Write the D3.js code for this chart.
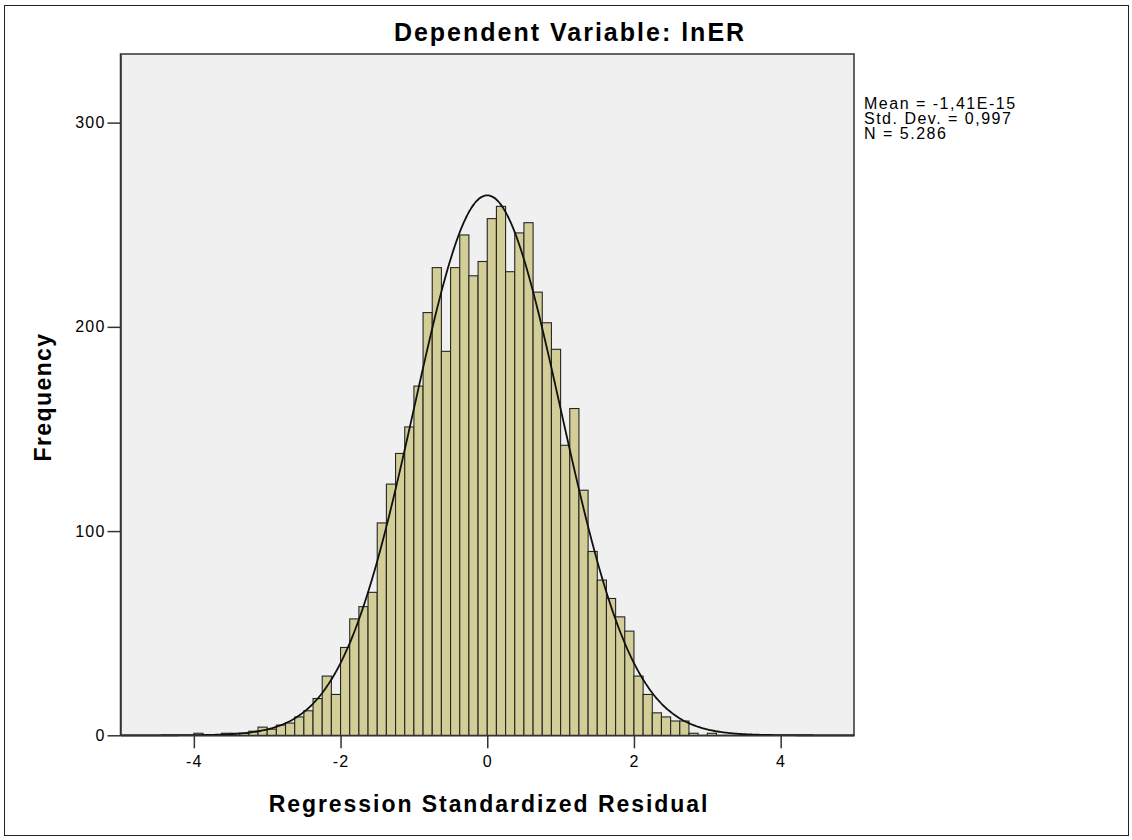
<!DOCTYPE html>
<html>
<head>
<meta charset="utf-8">
<script src="https://cdnjs.cloudflare.com/ajax/libs/d3/7.8.5/d3.min.js"></script>
<style>
	body { margin: 0; background: #fff; }
	text { font-family: "Liberation Sans", Arial, sans-serif; fill: #000; }
</style>
</head>
<body>
<div id="graphic"></div>
<script>
var TITLE = "Dependent Variable: lnER"
var X_LABEL = "Regression Standardized Residual"
var Y_LABEL = "Frequency"
var STATS_TEXT = ["Mean = -1,41E-15", "Std. Dev. = 0,997", "N = 5.286"]

var MEAN = -1.41e-15
var SD = 0.997
var N = 5286

var BIN_WIDTH = 0.125
var FIRST_BIN = -4
var COUNTS = [1,0,0,1,1,1,2,4,3,5,6,9,12,18,29,20,
	43,57,63,70,104,123,138,151,171,207,229,188,229,245,225,232,
	253,259,227,246,251,217,202,189,142,160,120,90,76,67,58,51,
	29,20,11,9,7,7,1,0,1]

var X_TICKS = [-4,-2,0,2,4]
var Y_TICKS = [0,100,200,300]

function drawHistogram(){
	var width = 1132
	var height = 840

	var x = d3.scaleLinear().domain([-5,5]).range([120.5,854])
	var y = d3.scaleLinear().domain([0,333.6]).range([735.3,54])

	var bins = COUNTS.map(function(c, i){
		return {x0: FIRST_BIN + i*BIN_WIDTH, x1: FIRST_BIN + (i+1)*BIN_WIDTH, count: c}
	})

	var svg = d3.select("#graphic")
		.append("svg")
		.attr("width", width)
		.attr("height", height)

	svg.append("rect")
		.attr("x", 4.5)
		.attr("y", 5.5)
		.attr("width", 1124)
		.attr("height", 830)
		.attr("fill", "#fff")
		.attr("stroke", "#222")
		.attr("stroke-width", 1)

	svg.append("rect")
		.attr("x", x.range()[0])
		.attr("y", y.range()[1])
		.attr("width", x.range()[1] - x.range()[0])
		.attr("height", y.range()[0] - y.range()[1])
		.attr("fill", "#f0f0f0")
		.attr("stroke", "#333")
		.attr("stroke-width", 1.5)

	svg.append("g")
		.selectAll(".bar")
		.data(bins.filter(function(d){ return d.count > 0 }))
		.enter()
		.append("rect")
		.attr("class", "bar")
		.attr("x", function(d){ return x(d.x0) })
		.attr("width", function(d){ return x(d.x1) - x(d.x0) })
		.attr("y", function(d){ return y(d.count) })
		.attr("height", function(d){ return y(0) - y(d.count) })
		.attr("fill", "#d3ce97")
		.attr("stroke", "#262626")
		.attr("stroke-width", 1.1)

	// fitted normal curve from the reported mean, std. dev. and N
	var curvePts = d3.range(-5, 5.001, 0.02).map(function(v){
		var z = (v - MEAN) / SD
		return [v, N * BIN_WIDTH * Math.exp(-0.5*z*z) / (SD*Math.sqrt(2*Math.PI))]
	})
	svg.append("path")
		.datum(curvePts)
		.attr("fill", "none")
		.attr("stroke", "#111")
		.attr("stroke-width", 1.8)
		.attr("d", d3.line()
			.x(function(d){ return x(d[0]) })
			.y(function(d){ return y(d[1]) })
			.curve(d3.curveBasis))

	var fmt = function(d){ return String(d) }
	var xAxis = svg.append("g")
		.attr("transform", "translate(0," + y(0) + ")")
		.call(d3.axisBottom(x).tickValues(X_TICKS).tickSize(13).tickSizeOuter(0).tickFormat(fmt))
	var yAxis = svg.append("g")
		.attr("transform", "translate(" + x.range()[0] + ",0)")
		.call(d3.axisLeft(y).tickValues(Y_TICKS).tickSize(13).tickSizeOuter(0).tickFormat(fmt))

	;[xAxis, yAxis].forEach(function(ax){
		ax.select(".domain").attr("stroke", "#333").attr("stroke-width", 1.5)
		ax.selectAll(".tick line").attr("stroke", "#333").attr("stroke-width", 1.5)
		ax.selectAll(".tick text")
			.attr("font-family", "Liberation Sans, Arial, sans-serif")
			.attr("font-size", 16)
			.style("letter-spacing", "1.2px")
			.attr("fill", "#000")
	})
	xAxis.selectAll(".tick text").attr("y", 20)
	yAxis.selectAll(".tick text").attr("x", -15)

	svg.append("text")
		.attr("x", 570)
		.attr("y", 41)
		.attr("text-anchor", "middle")
		.attr("font-size", 25)
		.attr("font-weight", "bold")
		.style("letter-spacing", "2px")
		.text(TITLE)

	svg.append("text")
		.attr("x", 489)
		.attr("y", 812)
		.attr("text-anchor", "middle")
		.attr("font-size", 23)
		.attr("font-weight", "bold")
		.style("letter-spacing", "1.95px")
		.text(X_LABEL)

	svg.append("text")
		.attr("transform", "translate(51,397) rotate(-90)")
		.attr("text-anchor", "middle")
		.attr("font-size", 23)
		.attr("font-weight", "bold")
		.style("letter-spacing", "1.4px")
		.text(Y_LABEL)

	svg.append("g")
		.selectAll(".stat")
		.data(STATS_TEXT)
		.enter()
		.append("text")
		.attr("class", "stat")
		.attr("x", 864)
		.attr("y", function(d, i){ return 108.5 + i*15 })
		.attr("font-size", 16)
		.style("letter-spacing", "1.5px")
		.text(function(d){ return d })
}

drawHistogram()
</script>
</body>
</html>
